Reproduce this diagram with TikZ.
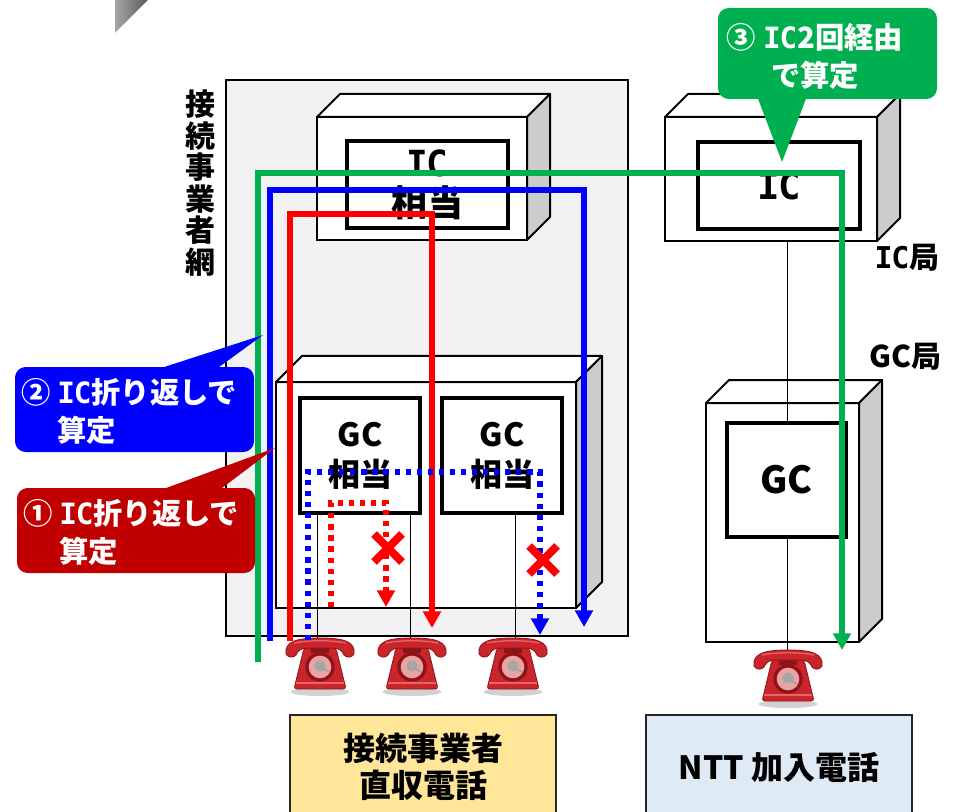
\documentclass[tikz,border=0pt]{standalone}
\usepackage{fontspec}
\setmainfont{Noto Sans CJK JP}
\newfontfamily\icf{DejaVu Sans Mono}[LetterSpace=-4]
\usetikzlibrary{arrows.meta}
\definecolor{gfill}{HTML}{F2F2F2}
\definecolor{sidegray}{HTML}{CCCCCC}
\definecolor{lgreen}{HTML}{00B050}
\definecolor{lblue}{HTML}{0000FF}
\definecolor{lred}{HTML}{FF0000}
\definecolor{cred}{HTML}{C00000}
\definecolor{yfill}{HTML}{FFE699}
\definecolor{bfill}{HTML}{DEEBF7}
\definecolor{phred}{HTML}{C9252B}
\definecolor{phdark}{HTML}{8E1318}
\definecolor{phlight}{HTML}{E4666A}
\definecolor{phdial}{HTML}{E9A3A3}
\newcommand\IC{{\icf IC}}
\newcommand\boxthreed[2]{%
  \draw[line width=1.5pt, fill=white, line join=round] (#1.north west) -- ++(#2,-#2) -- ([shift={(#2,-#2)}]#1.north east) -- (#1.north east) -- cycle;
  \draw[line width=1.5pt, fill=sidegray, line join=round] (#1.north east) -- ++(#2,-#2) -- ([shift={(#2,-#2)}]#1.south east) -- (#1.south east) -- cycle;
}
\tikzset{
  phone/.pic={
    \fill[black,opacity=0.18] (0,54) ellipse [x radius=22pt, y radius=3pt];
    \fill[phred, draw=phdark, line width=0.6pt, rounded corners=2pt] (-16,10) -- (16,10) -- (26,51) -- (-26,51) -- cycle;
    \draw[phlight, line width=1pt] (-24,45) -- (24,45);
    \fill[phdark] (-9,8) rectangle (9,15);
    \fill[phred, draw=phdark, line width=0.6pt] (-34,16) .. controls (-36,3) and (-22,0) .. (0,0) .. controls (22,0) and (36,3) .. (34,16) .. controls (32,20) and (26,20) .. (24,17) .. controls (22,12) and (18,10) .. (12,10) -- (-12,10) .. controls (-18,10) and (-22,12) .. (-24,17) .. controls (-26,20) and (-32,20) .. (-34,16) -- cycle;
    \draw[phlight, line width=1pt] (-26,5) .. controls (-12,2) and (12,2) .. (26,5);
    \fill[phdark] (0,29) circle [radius=11pt];
    \fill[phdial] (0,29) circle [radius=8.5pt];
    \fill[gray!70] (0,28) circle [radius=4.2pt];
    \draw[gray!75, line width=1.2pt] (2,30) -- (9,34);
  }
}
\begin{document}
\begin{tikzpicture}[x=0.75pt,y=-0.75pt,
  font=\bfseries,
  wpx/.style={minimum width=#1*0.75pt},
  hpx/.style={minimum height=#1*0.75pt},
  frontbox/.style={draw, line width=1.5pt, fill=white, inner sep=0pt, outer sep=0pt, anchor=north west},
  innerbox/.style={draw, line width=3pt, fill=white, inner sep=0pt, outer sep=0pt, anchor=north west, align=center},
  route/.style={line width=4.1pt},
  dotroute/.style={line width=3.9pt, dash pattern=on 3.9pt off 4.4pt},
  arrowtip/.style={-{Triangle[width=13pt,length=12.5pt]}},
  wire/.style={line width=0.75pt, black},
  cbox/.style={rounded corners=8pt, inner sep=0pt, outer sep=0pt, anchor=north west},
  ctext/.style={text=white, inner sep=0pt, font=\bfseries\fontsize{22}{28.5}\selectfont},
  xmark/.style={line width=6pt, lred},
  bottombox/.style={draw=black!85, line width=1.2pt, anchor=north west, inner sep=0pt, outer sep=0pt},
  lbl/.style={inner sep=0pt, font=\bfseries\fontsize{22.5}{24}\selectfont}
]
\useasboundingbox (0,0) rectangle (955,812);
\clip (0,0) rectangle (955,812);

% corner mark
\shade[left color=black!35, right color=black!65] (115,0) -- (148,0) -- (115,33) -- cycle;

% connecting carrier network
\node[draw, line width=1.5pt, fill=gfill, anchor=north west, wpx=402, hpx=556, inner sep=0pt, outer sep=0pt] (net) at (226,80) {};
\node[font=\bfseries\fontsize{22.5}{23.6}\selectfont, align=center, inner sep=0pt] (netlbl) at (200,183) {接\\続\\事\\業\\者\\網};

% IC equivalent
\node[frontbox, wpx=210, hpx=123] (icf) at (317,117) {};
\boxthreed{icf}{23}
\node[innerbox, wpx=161, hpx=87, font=\bfseries\fontsize{27}{30}\selectfont] (ici) at (347,141) {\IC\\相当};

% GC equivalents
\node[frontbox, wpx=300, hpx=226] (gcf) at (276,382) {};
\boxthreed{gcf}{26}
\node[innerbox, wpx=120, hpx=115, font=\bfseries\fontsize{24}{30}\selectfont] (gca) at (300,398) {GC\\相当};
\node[innerbox, wpx=120, hpx=115, font=\bfseries\fontsize{24}{30}\selectfont] (gcb) at (442,398) {GC\\相当};

% NTT IC office
\node[frontbox, wpx=212, hpx=124] (ricf) at (665,117) {};
\boxthreed{ricf}{23}
\node[innerbox, wpx=162, hpx=87, font=\bfseries\fontsize{28}{30}\selectfont] (rici) at (698,142) {\IC};

% NTT GC office
\node[frontbox, wpx=153, hpx=239] (rgcf) at (706,403) {};
\boxthreed{rgcf}{23}
\node[innerbox, wpx=119, hpx=114, font=\bfseries\fontsize{28}{30}\selectfont] (rgci) at (727,423) {GC};

\node[lbl] (iclbl) at (907,258) {\IC 局};
\node[lbl] (gclbl) at (905,357) {GC局};

% subscriber wires
\coordinate (t1) at (317,645);
\coordinate (t2) at (410,645);
\coordinate (t3) at (515,645);
\coordinate (t4) at (787,655);
\draw[wire] (gca.south -| t1) -- (t1);
\draw[wire] (gca.south -| t2) -- (t2);
\draw[wire] (gcb.south -| t3) -- (t3);
\draw[wire] (ricf.south -| t4) -- (rgci.north -| t4);
\draw[wire] (rgci.south -| t4) -- (t4);

% telephones
\pic (ph1) at (320,638) {phone};
\pic (ph2) at (412,638) {phone};
\pic (ph3) at (513,638) {phone};
\pic (ph4) at (788,650) {phone};

% routes
\coordinate (gA) at (258,662); \coordinate (gB) at (258,173);
\coordinate (gC) at (842,173); \coordinate (gD) at (842,650);
\draw[route, lgreen, arrowtip] (gA) -- (gB) -- (gC) -- (gD);
\coordinate (bA) at (270,641); \coordinate (bB) at (270,190);
\coordinate (bC) at (584,190); \coordinate (bD) at (584,627);
\draw[route, lblue, arrowtip] (bA) -- (bB) -- (bC) -- (bD);
\coordinate (rA) at (290,641); \coordinate (rB) at (290,214);
\coordinate (rC) at (432,214); \coordinate (rD) at (432,628);
\draw[route, lred, arrowtip] (rA) -- (rB) -- (rC) -- (rD);
\coordinate (dbA) at (308,640); \coordinate (dbB) at (308,472);
\coordinate (dbC) at (540,472); \coordinate (dbD) at (540,635);
\draw[dotroute, lblue, arrowtip] (dbA) -- (dbB) -- (dbC) -- (dbD);
\coordinate (drA) at (331,607); \coordinate (drB) at (331,503);
\coordinate (drC) at (386,503); \coordinate (drD) at (386,607);
\draw[dotroute, lred, arrowtip] (drA) -- (drB) -- (drC) -- (drD);

% crosses
\coordinate (x1) at (388,548);
\coordinate (x2) at (543,560);
\draw[xmark] ([shift={(-14,-14)}]x1) -- ([shift={(14,14)}]x1);
\draw[xmark] ([shift={(-14,14)}]x1) -- ([shift={(14,-14)}]x1);
\draw[xmark] ([shift={(-14,-14)}]x2) -- ([shift={(14,14)}]x2);
\draw[xmark] ([shift={(-14,14)}]x2) -- ([shift={(14,-14)}]x2);

% callouts
\node[cbox, fill=lblue, wpx=239, hpx=85] (cb) at (15,367) {};
\coordinate (cbt) at (263,335);
\fill[lblue] ([shift={(140,3)}]cb.north west) -- (cbt) -- ([shift={(200,3)}]cb.north west) -- cycle;
\node[ctext, anchor=west, align=left] (cbx) at (21,411) {② \IC 折り返しで\\\phantom{② }算定};

\node[cbox, fill=cred, wpx=238, hpx=85] (cr) at (17,488) {};
\coordinate (crt) at (275,448);
\fill[cred] ([shift={(141,3)}]cr.north west) -- (crt) -- ([shift={(201,3)}]cr.north west) -- cycle;
\node[ctext, anchor=west, align=left] (crx) at (23,532) {① \IC 折り返しで\\\phantom{① }算定};

\node[cbox, fill=lgreen, wpx=219, hpx=91] (cg) at (718,8) {};
\coordinate (cgt) at (782,162);
\fill[lgreen] ([shift={(39,-3)}]cg.south west) -- (cgt) -- ([shift={(89,-3)}]cg.south west) -- cycle;
\node[ctext, align=center] (cgx) at (815,56) {③ \IC 2回経由\\で算定};

% bottom boxes
\node[bottombox, fill=yfill, wpx=266, hpx=130] (yb) at (290,715) {};
\node[font=\bfseries\fontsize{24}{28}\selectfont, align=center, inner sep=0pt] (ybt) at (423,767) {接続事業者\\直収電話};
\node[bottombox, fill=bfill, wpx=266, hpx=130] (nb) at (646,715) {};
\node[font=\bfseries\fontsize{24}{28}\selectfont, inner sep=0pt] (nbt) at (779,767) {NTT 加入電話};
\end{tikzpicture}
\end{document}
